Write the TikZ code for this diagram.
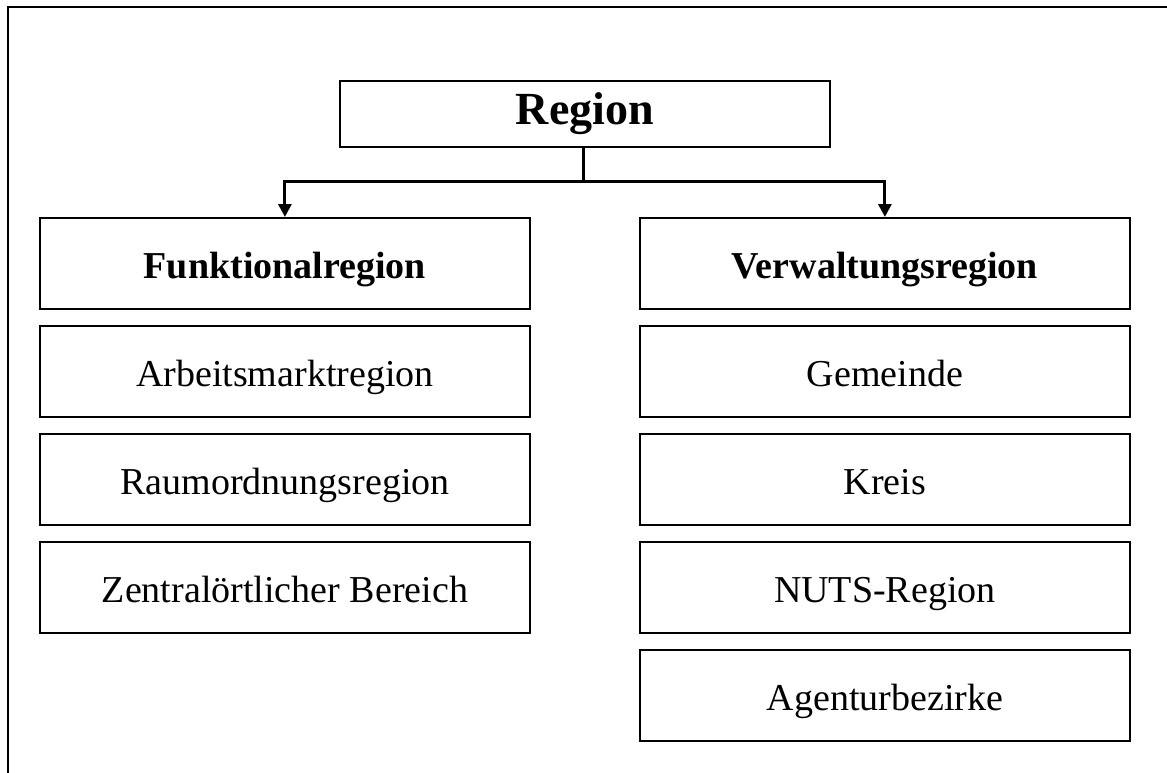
\documentclass[tikz,border=0pt]{standalone}
\usepackage{fontspec}
\setmainfont{Liberation Serif}
\usetikzlibrary{arrows.meta}
\begin{document}
\begin{tikzpicture}[x=1pt,y=1pt,
  box/.style={draw=black,line width=1.8pt,minimum width=490pt,minimum height=91pt,inner sep=0pt,text height=30pt,text depth=-3pt,anchor=north west,font=\fontsize{38}{42}\selectfont},
  bbox/.style={box,font=\fontsize{38}{42}\selectfont\bfseries},
  conn/.style={line width=3pt},
  arr/.style={conn,-{Triangle[width=13pt,length=13pt]}}]
\useasboundingbox (0,0) rectangle (1167,-773);
\draw[line width=2.5pt] (8,-773) -- (8,-7) -- (1167,-7);
\node[draw=black,line width=1.8pt,minimum width=490pt,minimum height=66pt,inner sep=0pt,anchor=north west,font=\fontsize{46}{50}\selectfont\bfseries] (region) at (339,-80) {Region};
\node[bbox] (funk) at (39,-217) {Funktionalregion};
\node[box] (arb) at (39,-325) {Arbeitsmarktregion};
\node[box] (raum) at (39,-433) {Raumordnungsregion};
\node[box] (zent) at (39,-541) {Zentralörtlicher Bereich};
\node[bbox] (verw) at (639,-217) {Verwaltungsregion};
\node[box] (gem) at (639,-325) {Gemeinde};
\node[box] (kreis) at (639,-433) {Kreis};
\node[box] (nuts) at (639,-541) {NUTS-Region};
\node[box] (agen) at (639,-649) {Agenturbezirke};
\coordinate (j) at (583,-181);
\draw[conn] (region.south -| j) -- (j);
\draw[arr] (j) -| (funk.north);
\draw[arr] (j) -| (verw.north);
\end{tikzpicture}
\end{document}
